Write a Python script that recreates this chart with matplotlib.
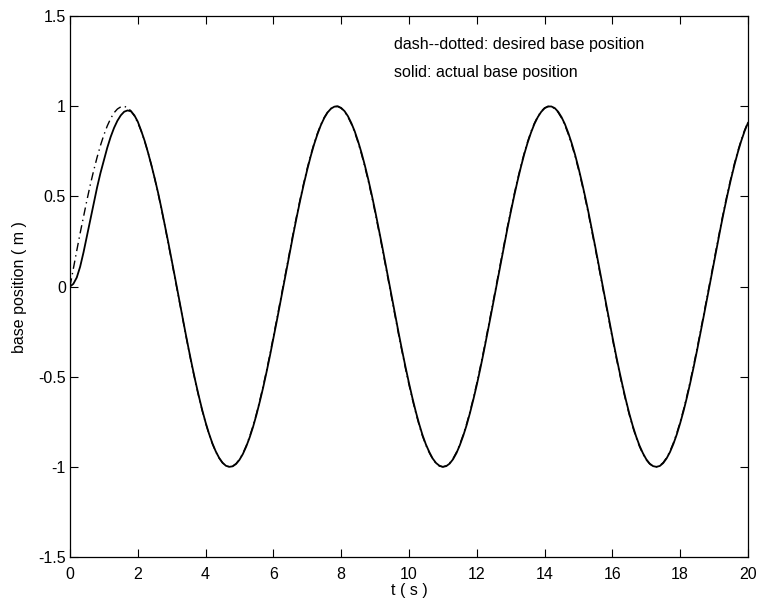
import matplotlib
matplotlib.use("Agg")
import matplotlib.pyplot as plt

plt.rcParams['font.family'] = ['Liberation Sans', 'DejaVu Sans']
plt.rcParams['axes.unicode_minus'] = False

# Time samples (s), 0.1 s apart
t = [i / 10 for i in range(201)]

# desired base position (dash-dotted)
desired = [
    0.000, 0.100, 0.199, 0.296, 0.389, 0.479, 0.565, 0.644, 0.717, 0.783,
    0.841, 0.891, 0.932, 0.964, 0.985, 0.997, 1.000, 0.992, 0.974, 0.946,
    0.909, 0.863, 0.808, 0.746, 0.675, 0.598, 0.516, 0.427, 0.335, 0.239,
    0.141, 0.042, -0.058, -0.158, -0.256, -0.351, -0.443, -0.530, -0.612, -0.688,
    -0.757, -0.818, -0.872, -0.916, -0.952, -0.978, -0.994, -1.000, -0.996, -0.982,
    -0.959, -0.926, -0.883, -0.832, -0.773, -0.706, -0.631, -0.551, -0.465, -0.374,
    -0.279, -0.182, -0.083, 0.017, 0.117, 0.215, 0.312, 0.405, 0.494, 0.578,
    0.657, 0.729, 0.794, 0.850, 0.899, 0.938, 0.968, 0.988, 0.999, 0.999,
    0.989, 0.970, 0.941, 0.902, 0.855, 0.798, 0.734, 0.663, 0.585, 0.501,
    0.412, 0.319, 0.223, 0.124, 0.025, -0.075, -0.174, -0.272, -0.366, -0.457,
    -0.544, -0.625, -0.700, -0.769, -0.830, -0.880, -0.922, -0.957, -0.981, -0.996,
    -1.000, -0.994, -0.979, -0.954, -0.919, -0.875, -0.822, -0.762, -0.694, -0.618,
    -0.537, -0.449, -0.358, -0.263, -0.165, -0.066, 0.034, 0.133, 0.232, 0.328,
    0.420, 0.509, 0.592, 0.670, 0.740, 0.804, 0.860, 0.906, 0.944, 0.972,
    0.991, 0.999, 0.998, 0.987, 0.966, 0.935, 0.895, 0.845, 0.787, 0.723,
    0.650, 0.571, 0.486, 0.397, 0.303, 0.206, 0.107, 0.008, -0.092, -0.190,
    -0.288, -0.382, -0.472, -0.558, -0.638, -0.712, -0.778, -0.837, -0.887, -0.929,
    -0.961, -0.984, -0.997, -1.000, -0.993, -0.976, -0.949, -0.913, -0.867, -0.813,
    -0.751, -0.682, -0.605, -0.522, -0.434, -0.342, -0.246, -0.149, -0.050, 0.050,
    0.150, 0.247, 0.343, 0.435, 0.523, 0.605, 0.682, 0.751, 0.813, 0.867,
    0.913,
]

# actual base position (solid)
actual = [
    0.000, 0.015, 0.050, 0.110, 0.190, 0.280, 0.370, 0.460, 0.550, 0.630,
    0.700, 0.770, 0.830, 0.880, 0.920, 0.950, 0.970, 0.977, 0.972, 0.950,
    0.915, 0.865, 0.810, 0.745, 0.675, 0.600, 0.520, 0.432, 0.340, 0.245,
    0.148, 0.049, -0.051, -0.151, -0.249, -0.345, -0.437, -0.525, -0.607, -0.684,
    -0.753, -0.815, -0.869, -0.914, -0.950, -0.977, -0.994, -1.000, -0.997, -0.984,
    -0.961, -0.929, -0.887, -0.837, -0.779, -0.712, -0.638, -0.559, -0.473, -0.383,
    -0.289, -0.192, -0.093, 0.007, 0.107, 0.206, 0.302, 0.396, 0.486, 0.570,
    0.649, 0.722, 0.788, 0.845, 0.895, 0.935, 0.966, 0.987, 0.998, 1.000,
    0.991, 0.973, 0.945, 0.907, 0.861, 0.805, 0.742, 0.671, 0.594, 0.511,
    0.422, 0.329, 0.233, 0.135, 0.035, -0.065, -0.164, -0.262, -0.357, -0.448,
    -0.535, -0.617, -0.693, -0.762, -0.824, -0.876, -0.918, -0.954, -0.979, -0.994,
    -1.000, -0.996, -0.982, -0.958, -0.924, -0.880, -0.828, -0.769, -0.701, -0.626,
    -0.546, -0.459, -0.368, -0.273, -0.175, -0.076, 0.024, 0.123, 0.222, 0.318,
    0.411, 0.500, 0.584, 0.662, 0.734, 0.798, 0.854, 0.902, 0.940, 0.969,
    0.989, 0.999, 0.999, 0.990, 0.970, 0.940, 0.901, 0.852, 0.795, 0.731,
    0.659, 0.580, 0.496, 0.407, 0.313, 0.216, 0.117, 0.018, -0.082, -0.180,
    -0.278, -0.373, -0.463, -0.549, -0.630, -0.705, -0.772, -0.831, -0.882, -0.924,
    -0.958, -0.982, -0.996, -1.000, -0.995, -0.979, -0.953, -0.918, -0.873, -0.820,
    -0.758, -0.690, -0.614, -0.532, -0.444, -0.352, -0.256, -0.159, -0.060, 0.040,
    0.140, 0.237, 0.333, 0.426, 0.514, 0.597, 0.674, 0.744, 0.807, 0.862,
    0.908,
]

xticks = list(range(0, 21, 2))
yticks = [-1.5, -1, -0.5, 0, 0.5, 1, 1.5]
ytick_labels = ['-1.5', '-1', '-0.5', '0', '0.5', '1', '1.5']

fig = plt.figure(figsize=(7.63, 6.07), dpi=100)
ax = fig.add_axes([0.0917, 0.0824, 0.8886, 0.891])

ax.plot(t, desired, color='black', linestyle=(0, (6, 3, 1, 3)), linewidth=1.0)
ax.plot(t, actual, color='black', linestyle='-', linewidth=1.3)

ax.set_xlim(0, 20)
ax.set_ylim(-1.5, 1.5)
ax.set_xticks(xticks)
ax.set_xticklabels([str(v) for v in xticks])
ax.set_yticks(yticks)
ax.set_yticklabels(ytick_labels)
ax.tick_params(direction='in', top=True, right=True, length=6, width=0.8,
               labelsize=11.5)
ax.tick_params(axis='x', pad=7)
ax.tick_params(axis='y', pad=3)
for s in ax.spines.values():
    s.set_linewidth(0.9)

ax.set_xlabel('t ( s )', fontsize=11.5, labelpad=1)
ax.set_ylabel('base position ( m )', fontsize=11.5, labelpad=8)

ax.text(9.55, 1.34, 'dash--dotted: desired base position', fontsize=11.5,
        va='center', ha='left')
ax.text(9.55, 1.19, 'solid: actual base position', fontsize=11.5,
        va='center', ha='left')

fig.savefig('out.png', dpi=100)
